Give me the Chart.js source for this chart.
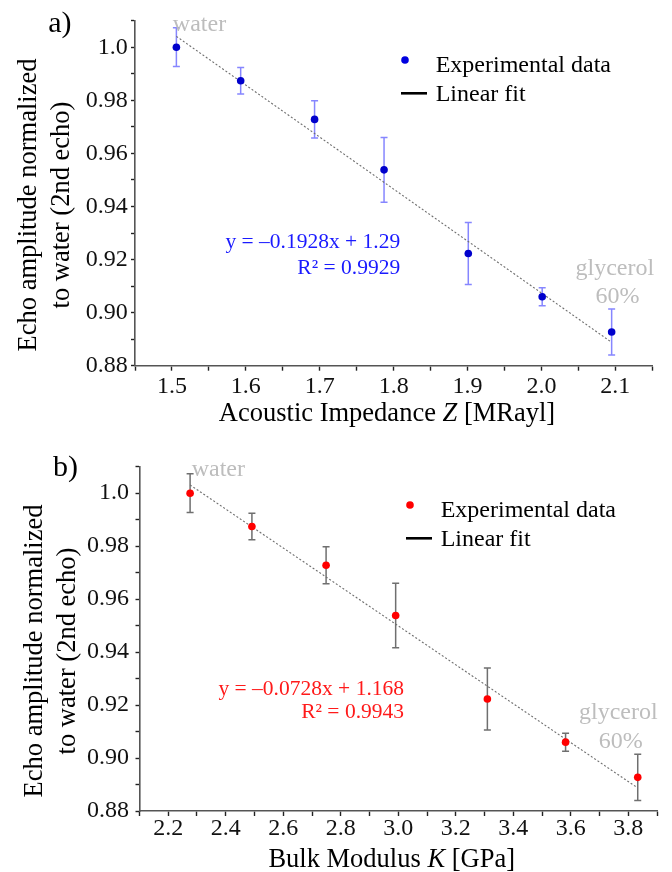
<!DOCTYPE html>
<html>
<head>
<meta charset="utf-8">
<script src="https://cdn.jsdelivr.net/npm/chart.js@4.4.0/dist/chart.umd.min.js"></script>
<style>
html,body{margin:0;padding:0;background:#fff;}
#wrap{position:relative;width:672px;height:872px;overflow:hidden;}
.panel{position:absolute;left:0;width:672px;height:436px;}
canvas{display:block;}
</style>
</head>
<body>
<div id="wrap">
  <div class="panel" style="top:0"><canvas id="c1" width="672" height="436"></canvas></div>
  <div class="panel" style="top:436px"><canvas id="c2" width="672" height="436"></canvas></div>
</div>
<script>
// ---------------- data ----------------
const echoAmplitude = [1.000, 0.9874, 0.9728, 0.9538, 0.9223, 0.9060, 0.8927];
const echoError     = [0.0073, 0.0050, 0.0070, 0.0122, 0.0117, 0.0034, 0.0087];
const impedanceZ    = [1.506, 1.593, 1.693, 1.787, 1.901, 2.001, 2.095];
const bulkModulusK  = [2.276, 2.491, 2.749, 2.991, 3.310, 3.582, 3.833];

const fitZx = [1.506, 2.093];
const fitZy = [1.0041, 0.8892];
const fitKx = [2.276, 3.833];
const fitKy = [1.0031, 0.8887];

const yTickValues = [0.88, 0.89, 0.90, 0.91, 0.92, 0.93, 0.94, 0.95, 0.96, 0.97, 0.98, 0.99, 1.00, 1.01];
const yTickLabels = ['0.88', '', '0.90', '', '0.92', '', '0.94', '', '0.96', '', '0.98', '', '1.0', ''];
const zTickValues = [1.45, 1.50, 1.55, 1.60, 1.65, 1.70, 1.75, 1.80, 1.85, 1.90, 1.95, 2.00, 2.05, 2.10, 2.15];
const zTickLabels = ['', '1.5', '', '1.6', '', '1.7', '', '1.8', '', '1.9', '', '2.0', '', '2.1', ''];
const kTickValues = [2.1, 2.2, 2.3, 2.4, 2.5, 2.6, 2.7, 2.8, 2.9, 3.0, 3.1, 3.2, 3.3, 3.4, 3.5, 3.6, 3.7, 3.8, 3.9];
const kTickLabels = ['', '2.2', '', '2.4', '', '2.6', '', '2.8', '', '3.0', '', '3.2', '', '3.4', '', '3.6', '', '3.8', ''];

// ---------------- style / layout ----------------
const FONT = "'Liberation Serif','Times New Roman',Times,serif";

function txt(ctx, s, x, y, size, color, align, style) {
  ctx.save();
  ctx.font = (style || '') + ' ' + size + 'px ' + FONT;
  ctx.fillStyle = color || '#000';
  ctx.textAlign = align || 'left';
  ctx.textBaseline = 'alphabetic';
  ctx.fillText(s, x, y);
  ctx.restore();
}

function richCentered(ctx, parts, cx, y, size, color) {
  ctx.save();
  const widths = parts.map(p => { ctx.font = (p.italic ? 'italic ' : '') + size + 'px ' + FONT; return ctx.measureText(p.t).width; });
  const total = widths.reduce((a, b) => a + b, 0);
  let x = cx - total / 2;
  ctx.fillStyle = color || '#000';
  ctx.textAlign = 'left';
  ctx.textBaseline = 'alphabetic';
  parts.forEach((p, i) => {
    ctx.font = (p.italic ? 'italic ' : '') + size + 'px ' + FONT;
    ctx.fillText(p.t, x, y);
    x += widths[i];
  });
  ctx.restore();
}

const errorBarsPlugin = {
  id: 'errorBars',
  beforeDatasetsDraw(chart, args, o) {
    const {ctx, scales: {x, y}} = chart;
    ctx.save();
    ctx.strokeStyle = o.color;
    ctx.lineWidth = o.width;
    o.xs.forEach((xv, i) => {
      const px = x.getPixelForValue(xv);
      const t = y.getPixelForValue(o.ys[i] + o.errs[i]);
      const b = y.getPixelForValue(o.ys[i] - o.errs[i]);
      ctx.beginPath();
      ctx.moveTo(px, t); ctx.lineTo(px, b);
      ctx.moveTo(px - o.cap, t); ctx.lineTo(px + o.cap, t);
      ctx.moveTo(px - o.cap, b); ctx.lineTo(px + o.cap, b);
      ctx.stroke();
    });
    ctx.restore();
  }
};

const decorPlugin = {
  id: 'decor',
  afterDraw(chart, args, o) {
    const {ctx, scales: {x, y}} = chart;
    // panel label
    txt(ctx, o.panelLabel.text, o.panelLabel.x, o.panelLabel.y, 30, '#000');
    // y axis title (two lines, rotated)
    ctx.save();
    ctx.font = '26.5px ' + FONT;
    ctx.fillStyle = '#000';
    ctx.textAlign = 'center';
    ctx.textBaseline = 'alphabetic';
    o.yTitle.lines.forEach((line, i) => {
      ctx.save();
      ctx.translate(o.yTitle.xs[i], o.yTitle.cy);
      ctx.rotate(-Math.PI / 2);
      ctx.fillText(line, 0, 0);
      ctx.restore();
    });
    ctx.restore();
    // x axis title
    richCentered(ctx, o.xTitle.parts, o.xTitle.cx, o.xTitle.y, 26.5, '#000');
    // legend
    const L = o.legend;
    ctx.save();
    ctx.fillStyle = L.dotColor;
    ctx.beginPath();
    ctx.arc(L.dotX, L.dotY, 3.8, 0, Math.PI * 2);
    ctx.fill();
    ctx.strokeStyle = '#000';
    ctx.lineWidth = 2.6;
    ctx.beginPath();
    ctx.moveTo(L.lineX1, L.lineY); ctx.lineTo(L.lineX2, L.lineY);
    ctx.stroke();
    ctx.restore();
    txt(ctx, 'Experimental data', L.textX, L.y1, 24, '#000');
    txt(ctx, 'Linear fit', L.textX, L.y2, 24, '#000');
    // annotations in data coordinates
    o.notes.forEach(n => {
      txt(ctx, n.text, x.getPixelForValue(n.x), y.getPixelForValue(n.y), n.size, n.color, n.align);
    });
  }
};

function makePanel(id, p) {
  return new Chart(document.getElementById(id), {
    type: 'scatter',
    data: {
      datasets: [
        {
          type: 'line', label: 'Linear fit',
          data: p.fitX.map((v, i) => ({x: v, y: p.fitY[i]})),
          borderColor: '#6e6e6e', borderWidth: 1.1, borderDash: [2, 2],
          pointRadius: 0, fill: false, tension: 0, order: 2
        },
        {
          type: 'scatter', label: 'Experimental data',
          data: p.xs.map((v, i) => ({x: v, y: echoAmplitude[i]})),
          backgroundColor: p.pointColor, borderWidth: 0, pointRadius: 3.8, order: 1
        }
      ]
    },
    options: {
      responsive: false, animation: false, devicePixelRatio: 1,
      layout: {padding: {left: 0, top: p.area.top, right: 672 - p.area.right, bottom: 0}},
      plugins: {
        legend: {display: false},
        tooltip: {enabled: false},
        errorBars: {xs: p.xs, ys: echoAmplitude, errs: echoError, color: p.errColor, width: 1.5, cap: 3.5},
        decor: p.decor
      },
      scales: {
        x: {
          type: 'linear', min: p.xMin, max: p.xMax,
          afterBuildTicks: s => { s.ticks = p.xTicks.map(v => ({value: v})); },
          afterFit: s => { s.height = 436 - p.area.bottom; },
          ticks: {
            autoSkip: false, maxRotation: 0, minRotation: 0, padding: p.xTickPad,
            font: {family: FONT, size: 24, lineHeight: 1}, color: '#111',
            callback: (v, i) => p.xLabels[i]
          },
          grid: {display: true, drawOnChartArea: false, drawTicks: true, tickLength: 5, tickColor: '#222', tickWidth: 1.4},
          border: {display: true, color: '#555', width: 1.6}
        },
        y: {
          type: 'linear', min: 0.88, max: 1.01,
          afterBuildTicks: s => { s.ticks = yTickValues.map(v => ({value: v})); },
          afterFit: s => { s.width = p.area.left; },
          ticks: {
            autoSkip: false, padding: p.yTickPad,
            font: {family: FONT, size: 24, lineHeight: 1}, color: '#111',
            callback: (v, i) => yTickLabels[i]
          },
          grid: {display: true, drawOnChartArea: false, drawTicks: true, tickLength: 4, tickColor: '#222', tickWidth: 1.4},
          border: {display: true, color: '#555', width: 1.6}
        }
      }
    },
    plugins: [errorBarsPlugin, decorPlugin]
  });
}

const yTitleLines = ['Echo amplitude normalized', 'to water (2nd echo)'];

makePanel('c1', {
  xs: impedanceZ, fitX: fitZx, fitY: fitZy,
  xMin: 1.45, xMax: 2.15, xTicks: zTickValues, xLabels: zTickLabels,
  area: {left: 135, right: 652.3, top: 20.7, bottom: 365.7},
  xTickPad: 4, yTickPad: 3.3,
  pointColor: '#0000cc', errColor: 'rgba(60,60,255,0.62)',
  decor: {
    panelLabel: {text: 'a)', x: 48.3, y: 31.7},
    yTitle: {lines: yTitleLines, xs: [36, 68.5], cy: 205},
    xTitle: {parts: [{t: 'Acoustic Impedance '}, {t: 'Z', italic: true}, {t: ' [MRayl]'}], cx: 387, y: 421},
    legend: {dotColor: '#0000e0', dotX: 405, dotY: 60, textX: 435.7, y1: 71.7, y2: 100.5, lineX1: 401, lineX2: 427, lineY: 93.3},
    notes: [
      {text: 'water', x: 1.5012, y: 1.00604, size: 24, color: '#bdbdbd', align: 'left'},
      {text: 'glycerol', x: 2.0993, y: 0.91423, size: 24, color: '#bdbdbd', align: 'center'},
      {text: '60%', x: 2.1029, y: 0.90355, size: 24, color: '#bdbdbd', align: 'center'},
      {text: 'y = \u20130.1928x + 1.29', x: 1.8088, y: 0.92442, size: 21.5, color: '#1a1aff', align: 'right'},
      {text: 'R\u00b2 = 0.9929', x: 1.8088, y: 0.91460, size: 21.5, color: '#1a1aff', align: 'right'}
    ]
  }
});

makePanel('c2', {
  xs: bulkModulusK, fitX: fitKx, fitY: fitKy,
  xMin: 2.1, xMax: 3.9, xTicks: kTickValues, xLabels: kTickLabels,
  area: {left: 139.5, right: 657, top: 30.7, bottom: 375},
  xTickPad: 0.3, yTickPad: 6.5,
  pointColor: '#ff0000', errColor: '#6f6f6f',
  decor: {
    panelLabel: {text: 'b)', x: 53, y: 40},
    yTitle: {lines: yTitleLines, xs: [41.5, 75], cy: 215},
    xTitle: {parts: [{t: 'Bulk Modulus '}, {t: 'K', italic: true}, {t: ' [GPa]'}], cx: 391.7, y: 430.7},
    legend: {dotColor: '#ff0000', dotX: 410, dotY: 69, textX: 440.7, y1: 80.7, y2: 109.7, lineX1: 406, lineX2: 432, lineY: 102.3},
    notes: [
      {text: 'water', x: 2.2816, y: 1.00653, size: 24, color: '#bdbdbd', align: 'left'},
      {text: 'glycerol', x: 3.7654, y: 0.91472, size: 24, color: '#bdbdbd', align: 'center'},
      {text: '60%', x: 3.7737, y: 0.90377, size: 24, color: '#bdbdbd', align: 'center'},
      {text: 'y = \u20130.0728x + 1.168', x: 3.02, y: 0.92389, size: 21.5, color: '#ff1a1a', align: 'right'},
      {text: 'R\u00b2 = 0.9943', x: 3.02, y: 0.91509, size: 21.5, color: '#ff1a1a', align: 'right'}
    ]
  }
});
</script>
</body>
</html>
